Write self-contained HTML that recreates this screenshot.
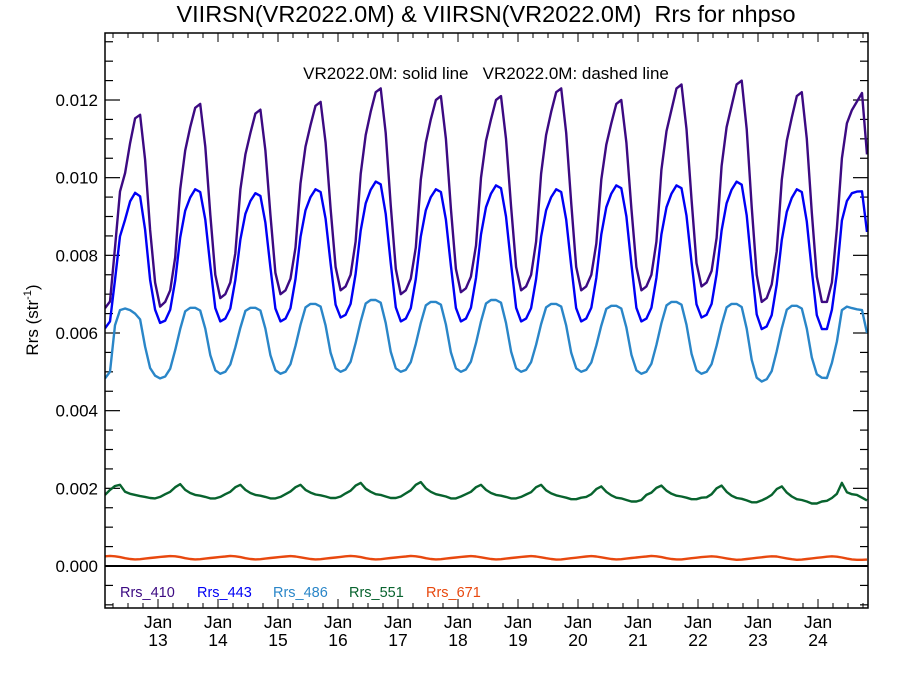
<!DOCTYPE html>
<html><head><meta charset="utf-8"><style>
html,body{margin:0;padding:0;background:#fff;}
svg{display:block;font-family:"Liberation Sans",sans-serif;}
.pre{white-space:pre;}
</style></head><body>
<svg id="chart" width="900" height="675" viewBox="0 0 900 675">
<text class="pre" x="486" y="22" text-anchor="middle" font-size="23.5" fill="#000">VIIRSN(VR2022.0M) &amp; VIIRSN(VR2022.0M)  Rrs for nhpso</text>
<text class="pre" x="486" y="79" text-anchor="middle" font-size="17" fill="#000">VR2022.0M: solid line   VR2022.0M: dashed line</text>
<text transform="translate(38,320) rotate(-90)" text-anchor="middle" font-size="17" fill="#000">Rrs (str<tspan font-size="11" dy="-7">-1</tspan><tspan dy="7">)</tspan></text>
<defs><clipPath id="plotclip"><rect x="105" y="33" width="763" height="575"/></clipPath></defs>
<g id="axes"></g>
<g id="series" clip-path="url(#plotclip)"></g>
<rect x="105" y="33" width="763" height="575" fill="none" stroke="#000" stroke-width="1.5"/>
<g id="legend"></g>
</svg>
<script>
// Data in units of 1e-4 sr^-1, monthly from Feb 2012
const yTicks = [0, 0.002, 0.004, 0.006, 0.008, 0.010, 0.012];
const yTickLabels = ["0.000","0.002","0.004","0.006","0.008","0.010","0.012"];
const yearLabels = ["13","14","15","16","17","18","19","20","21","22","23","24"];
const seriesNames = ["Rrs_410","Rrs_443","Rrs_486","Rrs_551","Rrs_671"];
const rrs410 = [
66.4,68.1,82,96.4,101.2,108.9,115.3,116.2,104.6,86.6,73,66.8,
68,71,79.5,97,107,113,118,119,108,90.5,75,69,
70,73,80.5,97,106,111.5,116.5,117.5,107,90.5,75.5,70,
71,74,82,98.5,108,113.5,118.5,119.5,109,92,77,71,
72,75,83.5,101,111,117,122,123,111.5,93,76.5,70,
71,74,82,99.5,109,115,120,121,110,92,76.5,70.5,
71.5,74.5,82.5,100,109.5,115,120,121,110,92.5,77,71,
72,75,83.5,101,111,117,122,123,111.5,93.5,77,71,
72,75,83,99.5,108.5,114,119,120,109,92,77,71,
72,75,83.5,102,112,117.5,123,124,112.5,94.5,78,72,
73,76,84.5,103,113,118.5,124,125,112.5,92.5,75,68,
69,72.5,81,99.5,109.5,115.5,121,122,110,91,74.5,68,
68,73,87,105,114,117.4,119.6,121.8,106];
const rrs443 = [
61.2,63.0,73.7,84.9,89.2,93.9,96.1,95.2,86.6,73.7,66.0,62.6,
63.2,66,73.5,84.6,91.5,94.9,97,96.3,89.2,77.3,66.4,63,
63.7,66.3,73.6,84.1,90.7,94,96,95.3,88.4,76.9,66.3,63,
63.7,66.4,73.9,84.8,91.6,95,97,96.3,89.4,77.9,67.3,64,
64.7,67.5,75.2,86.4,93.4,96.9,99,98.3,90.7,78.1,66.6,63,
63.7,66.4,73.9,84.8,91.6,95,97,96.3,89.2,77.3,66.4,63,
63.7,66.5,74.2,85.4,92.4,95.9,98,97.3,90,77.7,66.5,63,
63.7,66.4,73.9,84.8,91.6,95,97,96.3,89.2,77.3,66.4,63,
63.7,66.5,74.2,85.4,92.4,95.9,98,97.3,90,77.7,66.5,63,
63.7,66.5,74.2,85.4,92.4,95.9,98,97.3,90.2,78.3,67.4,64,
64.7,67.5,75.2,86.4,93.4,96.9,99,98.2,90.3,77,64.8,61,
61.7,64.6,72.5,84,91.2,94.8,97,96.3,88.7,76.1,64.6,61,
61,66,75.4,89,94,96,96.4,96.5,86];
const rrs486 = [
48.3,50,62,65.9,66.3,65.9,65,63.5,56.5,51,49,48.3,
48.8,50.8,55.6,61.0,65.6,66.5,66.5,65.8,61.1,54.3,50.4,49.5,
50,51.9,56.3,61.4,65.7,66.5,66.5,65.8,61.1,54.3,50.4,49.5,
50,52,56.7,62.1,66.6,67.5,67.5,66.8,61.9,54.9,50.9,50,
50.6,52.6,57.4,63,67.6,68.5,68.5,67.8,62.6,55.2,50.9,50,
50.5,52.5,57.2,62.6,67.1,68,68,67.3,62.2,55,50.9,50,
50.6,52.6,57.4,63,67.6,68.5,68.5,67.8,62.6,55.2,50.9,50,
50.5,52.5,57,62.3,66.6,67.5,67.5,66.8,61.9,54.9,50.9,50,
50.5,52.4,56.8,61.9,66.2,67,67,66.3,61.4,54.4,50.4,49.5,
50,52.1,56.9,62.5,67.1,68,68,67.3,62.1,54.7,50.4,49.5,
50,52,56.7,62.1,66.6,67.5,67.5,66.7,61.1,53.1,48.5,47.5,
48.1,50.2,55.3,61.2,66,67,67,66.3,61.1,53.7,49.4,48.5,
48.4,52.3,57.8,65.9,66.8,66.4,66.1,65.9,60];
const rrs551 = [
18.3,19.6,20.6,20.9,19.1,18.6,18.3,18.0,17.8,17.5,17.4,17.8,
18.5,19.1,20.3,21.1,19.6,18.8,18.3,18.1,17.8,17.4,17.4,17.8,
18.5,19.1,20.3,20.9,19.6,18.8,18.3,18.1,17.8,17.4,17.4,17.8,
18.5,19.2,20.3,20.9,19.6,18.9,18.4,18.2,17.9,17.5,17.5,17.9,
18.7,19.4,20.7,21.4,19.9,19.1,18.5,18.3,17.9,17.5,17.5,17.9,
18.7,19.5,20.9,21.6,20.0,19.1,18.5,18.2,17.9,17.4,17.4,17.9,
18.5,19.1,20.3,20.9,19.6,18.8,18.3,18.1,17.8,17.4,17.4,17.8,
18.4,19.0,20.3,20.9,19.5,18.7,18.2,17.9,17.6,17.2,17.2,17.6,
17.8,18.5,19.8,20.5,19.1,18.2,17.6,17.4,17.0,16.6,16.6,17.0,
18.3,18.9,20.1,20.7,19.4,18.6,18.1,17.9,17.6,17.2,17.2,17.6,
17.7,18.5,20.0,20.7,19.1,18.1,17.5,17.3,16.9,16.4,16.4,16.9,
17.5,18.3,19.8,20.5,18.9,17.9,17.2,17.0,16.6,16.1,16.1,16.6,
16.8,17.5,18.6,21.4,19.0,18.5,18.3,17.6,16.9];
const rrs671 = [
2.5,2.6,2.5,2.3,2.0,1.8,1.7,1.75,1.9,2.05,2.2,2.35,
2.45,2.55,2.5,2.3,2.0,1.8,1.7,1.75,1.9,2.05,2.2,2.35,
2.45,2.6,2.5,2.3,2.0,1.8,1.7,1.75,1.9,2.05,2.2,2.35,
2.45,2.55,2.45,2.25,2.0,1.8,1.7,1.75,1.9,2.05,2.2,2.35,
2.5,2.6,2.5,2.3,2.0,1.8,1.7,1.75,1.9,2.05,2.2,2.35,
2.45,2.6,2.5,2.3,2.0,1.8,1.7,1.75,1.9,2.05,2.2,2.35,
2.45,2.55,2.45,2.25,2.0,1.8,1.7,1.75,1.9,2.05,2.2,2.35,
2.45,2.55,2.45,2.25,2.0,1.8,1.65,1.7,1.85,2.0,2.15,2.3,
2.45,2.55,2.45,2.25,2.0,1.8,1.7,1.75,1.9,2.05,2.2,2.35,
2.45,2.6,2.5,2.3,2.0,1.8,1.7,1.7,1.85,2.0,2.15,2.3,
2.4,2.5,2.4,2.2,1.95,1.75,1.6,1.65,1.8,1.95,2.1,2.25,
2.4,2.5,2.45,2.2,1.95,1.75,1.6,1.65,1.8,1.95,2.1,2.25,
2.4,2.5,2.4,2.2,1.9,1.7,1.6,1.6,1.65];

const colors = ["#3c0a82","#0000f5","#2a86c8","#08632e","#e8480e"];
const NS = "http://www.w3.org/2000/svg";
const X0 = 105, X1 = 868, Y0 = 33, Y1 = 608;
function xIdx(m){ return X0 + m * 5.013; }
function yVal(v){ return 566 - v * 38833; }
function yearX(i){ return 158 + 60 * i; }
function mk(tag, attrs){ const e = document.createElementNS(NS, tag); for (const k in attrs) e.setAttribute(k, attrs[k]); return e; }

const axes = document.getElementById('axes');
for (let v = -0.0010; v <= 0.01375; v += 0.0005) {
  const vv = Math.round(v * 10000) / 10000;
  const y = yVal(vv);
  if (y < Y0 || y > Y1) continue;
  const major = Math.abs(Math.round(vv * 1000) - vv * 1000) < 1e-6 && Math.round(vv * 1000) % 2 === 0;
  const len = major ? 15 : 8;
  const t1 = mk('line', {x1: X0, x2: X0 + len, y1: y, y2: y, stroke: '#000', 'stroke-width': 1.2});
  
  
  axes.appendChild(t1);
  const t2 = mk('line', {x1: X1, x2: X1 - len, y1: y, y2: y, stroke: '#000', 'stroke-width': 1.2});
  
  
  axes.appendChild(t2);
}
yTicks.forEach((v, i) => {
  const t = mk('text', {x: 98, y: yVal(v) + 6, 'text-anchor': 'end', 'font-size': 17, fill: '#000'});
  t.textContent = yTickLabels[i];
  
  
  axes.appendChild(t);
});
for (let q = -4; q <= 52; q++) {
  const x = 158 + q * 15;
  if (x <= X0 || x >= X1) continue;
  const major = q % 4 === 0;
  const len = major ? 9 : 5;
  const b = mk('line', {x1: x, x2: x, y1: Y1, y2: Y1 - len, stroke: '#000', 'stroke-width': 1});
  
  
  axes.appendChild(b);
  const t = mk('line', {x1: x, x2: x, y1: Y0, y2: Y0 + len, stroke: '#000', 'stroke-width': 1});
  
  
  axes.appendChild(t);
}
yearLabels.forEach((lab, i) => {
  const x = yearX(i);
  const a = mk('text', {x: x, y: 628, 'text-anchor': 'middle', 'font-size': 17.5, fill: '#000'});
  a.textContent = 'Jan';
  
  
  axes.appendChild(a);
  const b = mk('text', {x: x, y: 646, 'text-anchor': 'middle', 'font-size': 17.5, fill: '#000'});
  b.textContent = lab;
  
  
  axes.appendChild(b);
});

const sg = document.getElementById('series');
const zl = mk('line', {x1: X0, x2: X1, y1: yVal(0), y2: yVal(0), stroke: '#000', 'stroke-width': 2});


sg.appendChild(zl);
[rrs410, rrs443, rrs486, rrs551, rrs671].forEach((arr, si) => {
  const pts = arr.map((v, m) => xIdx(m).toFixed(1) + ',' + yVal(v / 10000).toFixed(1)).join(' ');
  const p = mk('polyline', {points: pts, fill: 'none', stroke: colors[si], 'stroke-width': 2.4, 'stroke-linejoin': 'round'});
  
  
  sg.appendChild(p);
});

const lg = document.getElementById('legend');
const legX = [120, 197, 273, 349, 426];
seriesNames.forEach((n, i) => {
  const t = mk('text', {x: legX[i], y: 597, 'font-size': 14.5, fill: colors[i]});
  t.textContent = n;
  
  
  lg.appendChild(t);
});
</script>
</body></html>
